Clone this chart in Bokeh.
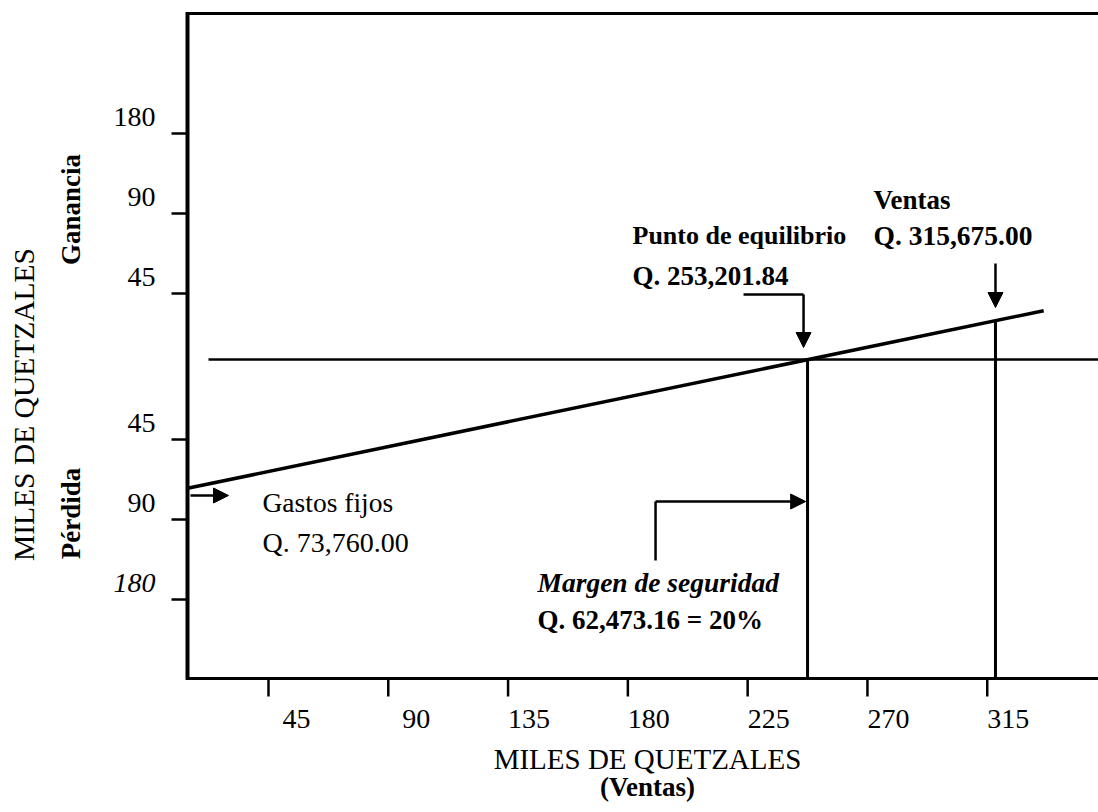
import math
import numpy as np
from bokeh.plotting import figure
from bokeh.models import Label, Arrow, NormalHead, Range1d
from bokeh.embed import file_html
from bokeh.resources import INLINE

# ---------------- data ----------------
# x axis: sales, thousands of quetzales
x_tick_values = [45, 90, 135, 180, 225, 270, 315]
x_tick_labels = ["45", "90", "135", "180", "225", "270", "315"]
# y axis: schematic profit / loss scale (one tick step per doubling)
gain_tick_labels = ["45", "90", "180"]
loss_tick_labels = ["45", "90", "180"]
# result line (loss below zero, profit above zero)
result_line_x = [14.6, 336.2]
result_line_y = [-1.61, 0.61]
breakeven_x = 247.5          # Q. 253,201.84 (as drawn)
sales_x = 318.1              # Q. 315,675.00 (as drawn)
fixed_cost_y = -1.7          # Gastos fijos marker level
margin_arrow_x = 190.4       # start of the safety-margin pointer
breakeven_texts = ["Punto de equilibrio", "Q. 253,201.84"]
sales_texts = ["Ventas", "Q. 315,675.00"]
fixed_texts = ["Gastos fijos", "Q. 73,760.00"]
margin_texts = ["Margen de seguridad", "Q. 62,473.16 = 20%"]
x_title = ["MILES DE QUETZALES", "(Ventas)"]
y_title = "MILES DE QUETZALES"
gain_title = "Ganancia"
loss_title = "Pérdida"

# ---------------- layout helpers (canvas pixels -> data) ----------------
W, H = 1098, 812
X0_PX, XS = 148.2, 2.662     # canvas x of sales 0, px per thousand
Y0_PX, YS = 359.0, 80.0      # canvas y of zero line, px per tick step
BASE_FIX = 10                # baseline correction of the text renderer (px)


def dx(px):
    return (px - X0_PX) / XS


def dy(py):
    return (Y0_PX - py) / YS


FONT = "Liberation Serif"
BLACK = "black"
gain_ticks = [math.log2(int(v) / 45) + dy(293) for v in gain_tick_labels]
loss_ticks = [dy(439) - math.log2(int(v) / 45) for v in loss_tick_labels]
y_ticks = loss_ticks + gain_ticks

# axis frame (drawn by hand so that all texts can sit freely around it)
x_left, x_right = dx(187), dx(W + 10)
y_bottom, y_top = dy(678), dy(13)

p = figure(width=W, height=H,
           x_range=Range1d(dx(0), dx(W)), y_range=Range1d(dy(H), dy(0)),
           x_axis_type=None, y_axis_type=None,
           output_backend="svg", toolbar_location=None,
           min_border=0, min_border_left=0, min_border_right=0,
           min_border_top=0, min_border_bottom=0)
p.grid.visible = False
p.outline_line_color = None
p.background_fill_color = "white"
p.border_fill_color = "white"

# axes
p.line([x_left, x_left], [y_bottom - 1.5 / YS, y_top + 1.5 / YS], line_width=4, line_color=BLACK)
p.line([x_left, x_right], [y_bottom, y_bottom], line_width=3, line_color=BLACK)
p.line([x_left, x_right], [y_top, y_top], line_width=3, line_color=BLACK)
p.segment(x0=x_tick_values, y0=[y_bottom] * len(x_tick_values),
          x1=x_tick_values, y1=[y_bottom - 18 / YS] * len(x_tick_values),
          line_width=2.5, line_color=BLACK)
p.segment(x0=[x_left - 16 / XS] * len(y_ticks), y0=y_ticks,
          x1=[x_left] * len(y_ticks), y1=y_ticks,
          line_width=2.5, line_color=BLACK)

# ---------------- marks ----------------
p.line(result_line_x, result_line_y, line_width=3.5, line_color=BLACK)
p.line([dx(208), x_right], [0, 0], line_width=2.5, line_color=BLACK)
sales_line_y = float(np.interp(sales_x, result_line_x, result_line_y))
p.segment(x0=[breakeven_x, sales_x], y0=[0, sales_line_y],
          x1=[breakeven_x, sales_x], y1=[y_bottom, y_bottom],
          line_width=3, line_color=BLACK)


def head():
    return NormalHead(size=15, fill_color=BLACK, line_color=BLACK, line_width=1)


# Gastos fijos pointer
p.add_layout(Arrow(end=head(), x_start=dx(190), y_start=fixed_cost_y,
                   x_end=dx(228), y_end=fixed_cost_y, line_width=2.5, line_color=BLACK))
# break-even pointer
be_px = breakeven_x - 1.5
p.line([dx(743), be_px], [dy(294), dy(294)], line_width=2.5, line_color=BLACK)
p.add_layout(Arrow(end=head(), x_start=be_px, y_start=dy(294), x_end=be_px, y_end=dy(347),
                   line_width=2.5, line_color=BLACK))
# sales pointer
p.add_layout(Arrow(end=head(), x_start=sales_x, y_start=dy(263), x_end=sales_x, y_end=dy(307),
                   line_width=2.5, line_color=BLACK))
# safety margin pointer
p.line([margin_arrow_x, margin_arrow_x], [dy(560), dy(501)], line_width=2.5, line_color=BLACK)
p.add_layout(Arrow(end=head(), x_start=margin_arrow_x, y_start=dy(501),
                   x_end=breakeven_x - 0.7, y_end=dy(501), line_width=2.5, line_color=BLACK))


# ---------------- texts ----------------
def txt_xy(text, x, y, size="27px", style="normal", align="left", angle=0.0):
    p.add_layout(Label(x=x, y=y, text=text, text_font=FONT, text_font_size=size,
                       text_font_style=style, text_color=BLACK, text_align=align,
                       text_baseline="alphabetic", angle=angle))


def txt(text, px, py, size="27px", style="normal", align="left", vertical=False):
    # px, py: canvas position of the text baseline anchor
    if vertical:
        txt_xy(text, dx(px - BASE_FIX), dy(py), size, style, align, math.pi / 2)
    else:
        txt_xy(text, dx(px), dy(py - BASE_FIX), size, style, align)


for v, lab in zip(x_tick_values, x_tick_labels):
    txt_xy(lab, v + 42 / XS, dy(728 - BASE_FIX), size="28px", align="right")
for pos, lab in zip(gain_ticks, gain_tick_labels):
    txt_xy(lab, dx(155), pos + (7 + BASE_FIX) / YS, size="28px", align="right")
for i, (pos, lab) in enumerate(zip(loss_ticks, loss_tick_labels)):
    txt_xy(lab, dx(155), pos + (7 + BASE_FIX) / YS, size="28px", align="right",
           style="italic" if i == 2 else "normal")

txt(breakeven_texts[0], 632, 245, size="26px", style="bold")
txt(breakeven_texts[1], 632, 285, style="bold")
txt(sales_texts[0], 873, 209, style="bold")
txt(sales_texts[1], 873, 245, size="27.5px", style="bold")
txt(fixed_texts[0], 262, 512, size="27.5px")
txt(fixed_texts[1], 262, 552, size="28px")
txt(margin_texts[0], 537, 592, size="27.5px", style="bold italic")
txt(margin_texts[1], 537, 629, style="bold")

txt(x_title[0], 647, 768, size="29px", align="center")
txt(x_title[1], 647, 796, style="bold", align="center")
txt(y_title, 33, 404, size="29.5px", align="center", vertical=True)
txt(gain_title, 80, 209, style="bold", align="center", vertical=True)
txt(loss_title, 80, 513, style="bold", align="center", vertical=True)

open("out.html", "w").write(file_html(p, INLINE))
